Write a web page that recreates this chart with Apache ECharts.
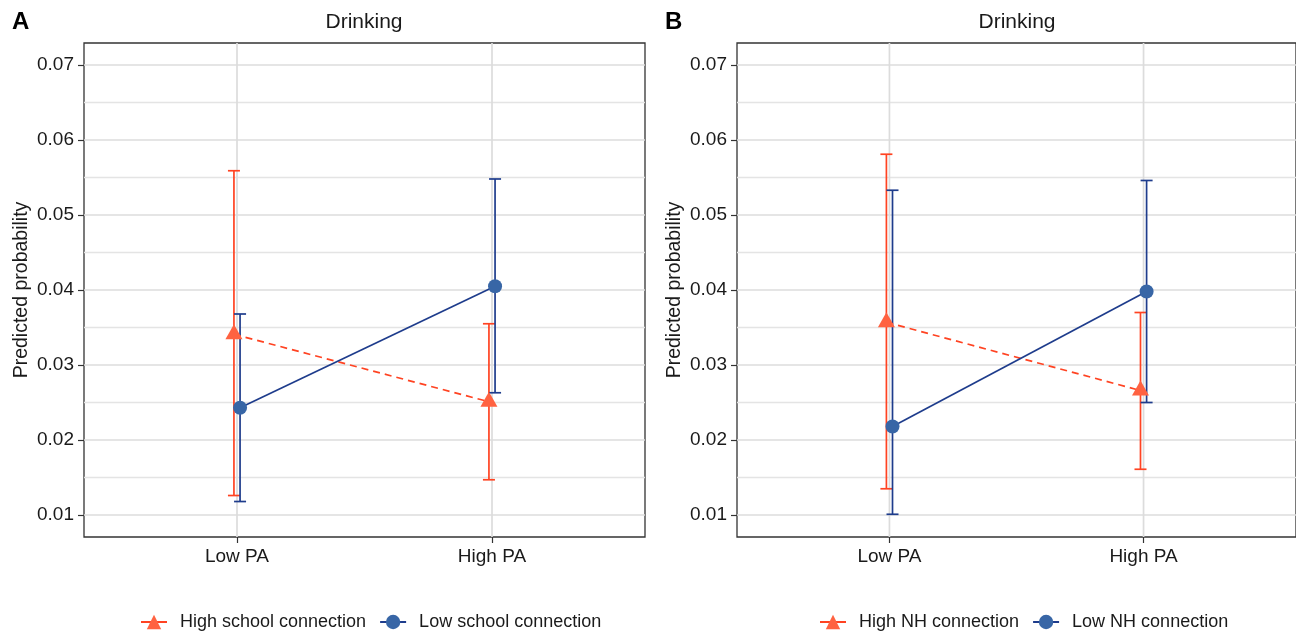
<!DOCTYPE html>
<html>
<head>
<meta charset="utf-8">
<script src="https://cdn.jsdelivr.net/npm/echarts@6/dist/echarts.min.js"></script>
<style>
html,body{margin:0;padding:0;background:#fff;}
#chart{width:1296px;height:633px;}
</style>
</head>
<body>
<div id="chart"></div>
<script>
// ---- data ----
const categories = ['Low PA', 'High PA'];
const yTicks = [0.01, 0.02, 0.03, 0.04, 0.05, 0.06, 0.07];
const yMinorTicks = [0.015, 0.025, 0.035, 0.045, 0.055, 0.065];
const panelTitles = ['Drinking', 'Drinking'];
const panelLetters = ['A', 'B'];

const namesA = ['High school connection', 'Low school connection'];
const highA_mean = [0.0341, 0.0251];
const highA_lower = [0.0126, 0.0147];
const highA_upper = [0.0559, 0.0355];
const lowA_mean = [0.0243, 0.0405];
const lowA_lower = [0.0118, 0.0263];
const lowA_upper = [0.0368, 0.0548];

const namesB = ['High NH connection', 'Low NH connection'];
const highB_mean = [0.0357, 0.0266];
const highB_lower = [0.0135, 0.0161];
const highB_upper = [0.0581, 0.0370];
const lowB_mean = [0.0218, 0.0398];
const lowB_lower = [0.0101, 0.0250];
const lowB_upper = [0.0533, 0.0546];

// ---- styles ----
const ORANGE_LINE = '#FF4322';
const ORANGE_PT = '#FF6241';
const BLUE_LINE = '#1E3C8C';
const BLUE_PT = '#3866A6';
const FONT = 'Liberation Sans, Arial, sans-serif';
const DODGE = 0.012;
const yMin = 0.00707, yMax = 0.07293;

const chart = echarts.init(document.getElementById('chart'));

function catPos(i) { return i + 1; }

function errSeries(name, lower, upper, offset, color, idx) {
  return {
    name: name + ' err',
    type: 'custom',
    xAxisIndex: idx, yAxisIndex: idx,
    z: 3,
    silent: true,
    data: lower.map((l, i) => [catPos(i) + offset, l, upper[i]]),
    renderItem: function (params, api) {
      const x = api.value(0);
      const top = api.coord([x, api.value(2)]);
      const bot = api.coord([x, api.value(1)]);
      const hw = 6;
      const st = { stroke: color, lineWidth: 1.7, fill: null };
      return {
        type: 'group',
        children: [
          { type: 'line', shape: { x1: top[0], y1: top[1], x2: bot[0], y2: bot[1] }, style: st },
          { type: 'line', shape: { x1: top[0] - hw, y1: top[1], x2: top[0] + hw, y2: top[1] }, style: st },
          { type: 'line', shape: { x1: bot[0] - hw, y1: bot[1], x2: bot[0] + hw, y2: bot[1] }, style: st }
        ]
      };
    },
    encode: { x: 0, y: [1, 2] }
  };
}

function lineSeries(name, mean, offset, lineColor, ptColor, dashed, tri, idx) {
  return {
    name: name,
    type: 'line',
    xAxisIndex: idx, yAxisIndex: idx,
    z: tri ? 4 : 5,
    data: mean.map((m, i) => [catPos(i) + offset, m]),
    symbol: tri ? 'triangle' : 'circle',
    symbolSize: tri ? [17, 15] : 14,
    symbolOffset: tri ? [0, -2.5] : [0, 0],
    showSymbol: true,
    lineStyle: { color: lineColor, width: 1.7, type: dashed ? [7, 5] : 'solid' },
    itemStyle: { color: ptColor, borderWidth: 0 },
    emphasis: { disabled: true },
    animation: false
  };
}

// horizontal grid lines (major or minor) drawn across the grid via the axis scale
function hGridSeries(values, idx, color, width) {
  return {
    type: 'custom',
    xAxisIndex: idx, yAxisIndex: idx,
    z: 1, silent: true,
    data: values.map(v => [catPos(0), v]),
    encode: { x: 0, y: 1 },
    renderItem: function (params, api) {
      const cs = params.coordSys;
      const y = api.coord([api.value(0), api.value(1)])[1];
      return { type: 'line', shape: { x1: cs.x, y1: y, x2: cs.x + cs.width, y2: y }, style: { stroke: color, lineWidth: width } };
    }
  };
}
function vGridSeries(idx, color, width) {
  return {
    type: 'custom',
    xAxisIndex: idx, yAxisIndex: idx,
    z: 1, silent: true,
    data: categories.map((c, i) => [catPos(i), yTicks[0]]),
    encode: { x: 0, y: 1 },
    renderItem: function (params, api) {
      const cs = params.coordSys;
      const x = api.coord([api.value(0), api.value(1)])[0];
      return { type: 'line', shape: { x1: x, y1: cs.y, x2: x, y2: cs.y + cs.height }, style: { stroke: color, lineWidth: width } };
    }
  };
}

const grids = [
  { left: 84, top: 43, width: 561, height: 494 },
  { left: 737, top: 43, width: 561, height: 494 }
];

function xAxis(idx) {
  return {
    type: 'value', gridIndex: idx, min: 0.4, max: 2.6,
    axisLine: { show: false },
    splitLine: { show: false },
    axisTick: { show: true, length: 6, customValues: categories.map((c, i) => catPos(i)), lineStyle: { color: '#333', width: 1.2 } },
    axisLabel: {
      customValues: categories.map((c, i) => catPos(i)),
      formatter: v => categories[Math.round(v) - 1],
      color: '#1a1a1a', fontSize: 19, fontFamily: FONT, margin: 10
    }
  };
}
function yAxis(idx) {
  return {
    type: 'value', gridIndex: idx, min: yMin, max: yMax,
    name: 'Predicted probability', nameLocation: 'middle', nameGap: 52,
    nameTextStyle: { fontSize: 19.5, fontFamily: FONT, color: '#1a1a1a' },
    axisLine: { show: false },
    splitLine: { show: false },
    axisTick: { show: true, length: 6, customValues: yTicks, lineStyle: { color: '#333', width: 1.2 } },
    axisLabel: {
      customValues: yTicks,
      formatter: v => v.toFixed(2),
      color: '#1a1a1a', fontSize: 19, fontFamily: FONT, margin: 10
    }
  };
}

const titleStyle = { fontSize: 21, fontWeight: 'normal', fontFamily: FONT, color: '#1a1a1a' };
const letterStyle = { fontSize: 24, fontWeight: 'bold', fontFamily: FONT, color: '#000' };

const legendBase = {
  top: 608, orient: 'horizontal',
  itemWidth: 26, itemHeight: 18, itemGap: 13,
  lineStyle: { type: 'solid' },
  textStyle: { fontSize: 18, fontFamily: FONT, color: '#1a1a1a', padding: [0, 0, 0, 8] },
  selectedMode: false
};

const option = {
  backgroundColor: '#fff',
  animation: false,
  title: [
    { text: panelTitles[0], left: 364, top: 12, textAlign: 'center', padding: 0, textStyle: titleStyle },
    { text: panelTitles[1], left: 1017, top: 12, textAlign: 'center', padding: 0, textStyle: titleStyle },
    { text: panelLetters[0], left: 12, top: 10, padding: 0, textStyle: letterStyle },
    { text: panelLetters[1], left: 665, top: 10, padding: 0, textStyle: letterStyle }
  ],
  grid: grids.map(g => Object.assign({ show: true, borderColor: '#333', borderWidth: 1.3, backgroundColor: 'transparent', containLabel: false }, g)),
  xAxis: [xAxis(0), xAxis(1)],
  yAxis: [yAxis(0), yAxis(1)],
  legend: [
    Object.assign({ data: namesA, left: 135 }, legendBase),
    Object.assign({ data: namesB, left: 814 }, legendBase)
  ],
  series: [
    hGridSeries(yMinorTicks, 0, '#e4e4e4', 1.4),
    hGridSeries(yTicks, 0, '#dcdcdc', 1.7),
    vGridSeries(0, '#dcdcdc', 1.7),
    hGridSeries(yMinorTicks, 1, '#e4e4e4', 1.4),
    hGridSeries(yTicks, 1, '#dcdcdc', 1.7),
    vGridSeries(1, '#dcdcdc', 1.7),
    errSeries(namesA[0], highA_lower, highA_upper, -DODGE, ORANGE_LINE, 0),
    errSeries(namesA[1], lowA_lower, lowA_upper, DODGE, BLUE_LINE, 0),
    lineSeries(namesA[0], highA_mean, -DODGE, ORANGE_LINE, ORANGE_PT, true, true, 0),
    lineSeries(namesA[1], lowA_mean, DODGE, BLUE_LINE, BLUE_PT, false, false, 0),
    errSeries(namesB[0], highB_lower, highB_upper, -DODGE, ORANGE_LINE, 1),
    errSeries(namesB[1], lowB_lower, lowB_upper, DODGE, BLUE_LINE, 1),
    lineSeries(namesB[0], highB_mean, -DODGE, ORANGE_LINE, ORANGE_PT, true, true, 1),
    lineSeries(namesB[1], lowB_mean, DODGE, BLUE_LINE, BLUE_PT, false, false, 1)
  ]
};
chart.setOption(option);
</script>
</body>
</html>
